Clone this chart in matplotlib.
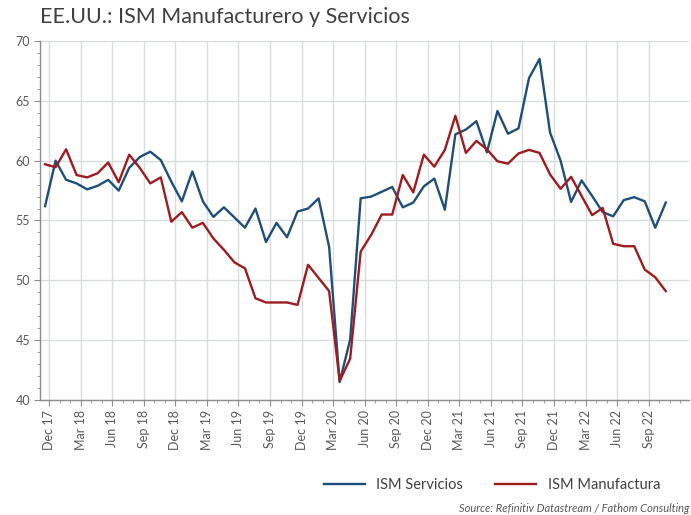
import matplotlib
matplotlib.use("Agg")
import matplotlib.pyplot as plt
from matplotlib.ticker import FixedLocator, MultipleLocator
import numpy as np

plt.rcParams['font.family'] = ['Lato', 'DejaVu Sans']

tick_labels = ["Dec 17", "Mar 18", "Jun 18", "Sep 18", "Dec 18", "Mar 19", "Jun 19",
               "Sep 19", "Dec 19", "Mar 20", "Jun 20", "Sep 20", "Dec 20", "Mar 21",
               "Jun 21", "Sep 21", "Dec 21", "Mar 22", "Jun 22", "Sep 22"]

servicios = [56.2, 60.0, 58.4, 58.1, 57.6, 57.9, 58.4, 57.5, 59.4, 60.3,
             60.75, 60.05, 58.25, 56.6, 59.1, 56.6, 55.3, 56.1, 55.25, 54.4,
             56.0, 53.2, 54.8, 53.6, 55.75, 56.0, 56.85, 52.8, 41.5, 45.05,
             56.85, 57.0, 57.4, 57.8, 56.1, 56.5, 57.85, 58.5, 55.9, 62.2,
             62.6, 63.3, 60.7, 64.15, 62.25, 62.7, 66.9, 68.5, 62.35, 60.0,
             56.55, 58.35, 57.05, 55.7, 55.35, 56.7, 56.95, 56.6, 54.4, 56.5]

manufactura = [59.7, 59.45, 60.95, 58.8, 58.6, 58.95, 59.85, 58.2, 60.5, 59.4,
               58.1, 58.6, 54.9, 55.7, 54.4, 54.8, 53.5, 52.55, 51.5, 51.0,
               48.5, 48.15, 48.15, 48.15, 47.95, 51.3, 50.2, 49.1, 41.6, 43.45,
               52.4, 53.8, 55.5, 55.5, 58.8, 57.35, 60.5, 59.5, 60.9, 63.75,
               60.65, 61.65, 60.95, 59.95, 59.75, 60.6, 60.9, 60.65, 58.85, 57.65,
               58.65, 57.05, 55.45, 56.05, 53.05, 52.85, 52.85, 50.9, 50.25, 49.1]

blue = "#1F4E79"
red = "#9E1B1F"
gray_txt = "#595959"
grid_c = "#D9DCDF"
axis_c = "#8C8C8C"

fig = plt.figure(figsize=(6.91, 5.15), dpi=100)
ax = fig.add_axes([0.0579, 0.2233, 0.997 - 0.0579, 0.9204 - 0.2233])

x = np.arange(len(servicios))
l1, = ax.plot(x, servicios, color=blue, lw=1.7, label="ISM Servicios", zorder=3)
l2, = ax.plot(x, manufactura, color=red, lw=1.7, label="ISM Manufactura", zorder=3)

off = 0.38
ax.set_xlim(-0.48, 61.2)
ax.set_ylim(40, 70)
major_x = [i * 3 + off for i in range(len(tick_labels))]
ax.xaxis.set_major_locator(FixedLocator(major_x))
ax.xaxis.set_minor_locator(FixedLocator([i + off for i in range(61)]))
ax.set_xticklabels(tick_labels, rotation=90, fontsize=9, color=gray_txt)
ax.yaxis.set_major_locator(MultipleLocator(5))
ax.yaxis.set_minor_locator(MultipleLocator(1))
for lab in ax.get_yticklabels():
    lab.set_fontsize(9)
    lab.set_color(gray_txt)

ax.tick_params(axis='both', which='major', direction='out', length=4, color=axis_c, pad=3)
ax.tick_params(axis='both', which='minor', direction='out', length=2.5, color=axis_c)
ax.tick_params(axis='y', labelsize=9, labelcolor=gray_txt)

ax.grid(True, which='major', color=grid_c, lw=1.0, zorder=0)
for s in ['top', 'right']:
    ax.spines[s].set_visible(False)
for s in ['left', 'bottom']:
    ax.spines[s].set_color(axis_c)
    ax.spines[s].set_linewidth(1.0)

fig.text(40 / 691, 1 - 17 / 515, "EE.UU.: ISM Manufacturero y Servicios",
         fontsize=15.5, color="#404040", ha='left', va='center')

fig.legend(handles=[l1, l2], loc='center', bbox_to_anchor=(492 / 691, 1 - 485 / 515),
           ncol=2, frameon=False, fontsize=10.5, handlelength=2.8, columnspacing=2.2,
           labelcolor="#404040")

fig.text(689 / 691, 1 - 508 / 515, "Source: Refinitiv Datastream / Fathom Consulting",
         fontsize=8, style='italic', color=gray_txt, ha='right', va='center')

fig.savefig("out.png", dpi=100)
